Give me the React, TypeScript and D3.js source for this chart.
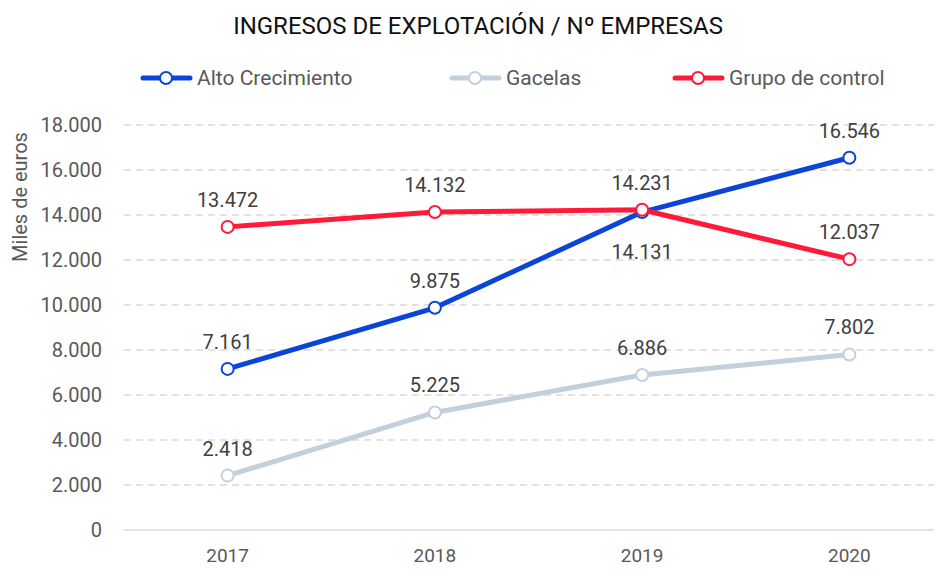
import React, { useEffect, useRef } from "react";
import * as d3 from "d3";

const years = ["2017", "2018", "2019", "2020"];
const altoCrecimiento = [7161, 9875, 14131, 16546];
const gacelas = [2418, 5225, 6886, 7802];
const grupoControl = [13472, 14132, 14231, 12037];
const yTicks = [0, 2000, 4000, 6000, 8000, 10000, 12000, 14000, 16000, 18000];

const fmt = (v: number) => (v === 0 ? "0" : d3.format(",")(v).replace(/,/g, "."));

const App = () => {
  const svgRef = useRef<SVGSVGElement>(null);

  useEffect(() => {
    const width = 942;
    const height = 571;
    const font = "Roboto, 'Noto Sans', sans-serif";

    const svg = d3.select(svgRef.current);
    svg.selectAll("*").remove();
    svg.attr("width", width).attr("height", height);

    const x = d3.scalePoint().domain(years).range([124, 953]).padding(0.5);
    const y = d3.scaleLinear().domain([0, 18000]).range([530, 125]);

    // título
    svg
      .append("text")
      .attr("x", 478)
      .attr("y", 34)
      .attr("text-anchor", "middle")
      .style("font-family", font)
      .style("font-size", "24px")
      .attr("fill", "#111")
      .text("INGRESOS DE EXPLOTACIÓN / Nº EMPRESAS");

    // rejilla
    const grid = svg.append("g");
    yTicks.forEach((t) => {
      grid
        .append("line")
        .attr("x1", 124)
        .attr("x2", 942)
        .attr("y1", y(t))
        .attr("y2", y(t))
        .attr("stroke", "#D9D9D9")
        .attr("stroke-width", 1.5)
        .attr("stroke-dasharray", t === 0 ? null : "7,5");
      grid
        .append("text")
        .attr("x", 102)
        .attr("y", y(t))
        .attr("dy", "0.35em")
        .attr("text-anchor", "end")
        .style("font-family", font)
        .style("font-size", "20px")
        .attr("fill", "#595959")
        .text(fmt(t));
    });

    years.forEach((yr) => {
      svg
        .append("text")
        .attr("x", x(yr)!)
        .attr("y", 562)
        .attr("text-anchor", "middle")
        .style("font-family", font)
        .style("font-size", "19px")
        .attr("fill", "#595959")
        .text(yr);
    });

    svg
      .append("text")
      .attr("transform", `translate(27,197) rotate(-90)`)
      .attr("text-anchor", "middle")
      .style("font-family", font)
      .style("font-size", "20px")
      .attr("fill", "#595959")
      .text("Miles de euros");

    const series = [
      { name: "Alto Crecimiento", values: altoCrecimiento, color: "#0B45D8", legendX: 141, below: [false, false, true, false] },
      { name: "Gacelas", values: gacelas, color: "#C2D0DE", legendX: 450, below: [false, false, false, false] },
      { name: "Grupo de control", values: grupoControl, color: "#FF1A3A", legendX: 673, below: [false, false, false, false] },
    ];

    const line = d3
      .line<number>()
      .x((_, i) => x(years[i])!)
      .y((d) => y(d));

    series.forEach((s) => {
      svg
        .append("path")
        .datum(s.values)
        .attr("d", line)
        .attr("fill", "none")
        .attr("stroke", s.color)
        .attr("stroke-width", 5)
        .attr("stroke-linejoin", "round")
        .attr("stroke-linecap", "round");

      svg
        .selectAll(null)
        .data(s.values)
        .enter()
        .append("circle")
        .attr("cx", (_, i) => x(years[i])!)
        .attr("cy", (d) => y(d))
        .attr("r", 6)
        .attr("fill", "white")
        .attr("stroke", s.color)
        .attr("stroke-width", 2);

      // leyenda
      const lg = svg.append("g").attr("transform", `translate(${s.legendX},78)`);
      lg.append("line")
        .attr("x1", 2)
        .attr("x2", 49)
        .attr("stroke", s.color)
        .attr("stroke-width", 5)
        .attr("stroke-linecap", "round");
      lg.append("circle").attr("cx", 25).attr("r", 6).attr("fill", "white").attr("stroke", s.color).attr("stroke-width", 2);
      lg.append("text")
        .attr("x", 56)
        .attr("dy", "0.35em")
        .style("font-family", font)
        .style("font-size", "21px")
        .attr("fill", "#595959")
        .text(s.name);
    });

    // etiquetas de datos
    series.forEach((s) => {
      svg
        .selectAll(null)
        .data(s.values)
        .enter()
        .append("text")
        .attr("x", (_, i) => x(years[i])!)
        .attr("y", (d, i) => (s.below[i] ? y(d) + 47 : y(d) - 20))
        .attr("text-anchor", "middle")
        .style("font-family", font)
        .style("font-size", "20px")
        .attr("fill", "#404040")
        .text((d) => fmt(d));
    });
  }, []);

  return <svg ref={svgRef} style={{ display: "block", margin: "-8px" }} />;
};

export default App;
